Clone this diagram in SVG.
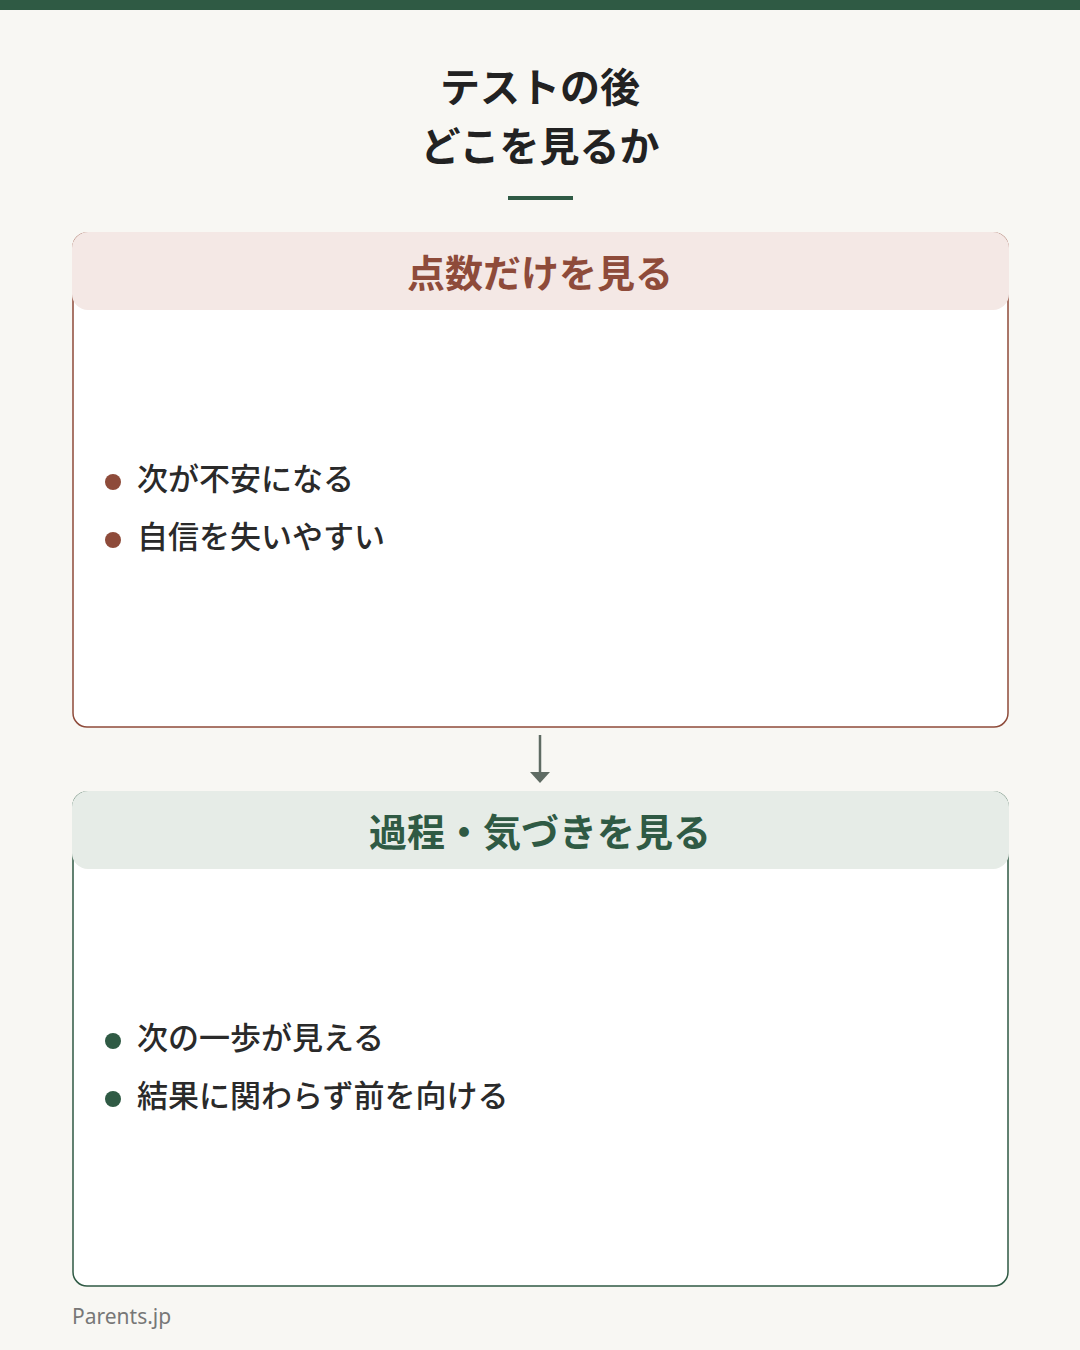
<svg xmlns="http://www.w3.org/2000/svg" width="1080" height="1350" viewBox="0 0 1080 1350">
<style>
text{font-family:"Noto Sans CJK JP","Noto Sans",sans-serif}
.t{font-size:40px;font-weight:700;fill:#222;text-anchor:middle}
.h{font-size:38px;font-weight:700;text-anchor:middle}
.b{font-size:31px;font-weight:500;fill:#2a2a2a}
</style>
<rect width="1080" height="1350" fill="#f8f7f3"/>
<rect width="1080" height="10" fill="#2f5a44"/>
<text class="t" x="540" y="102">テストの後</text>
<text class="t" x="540" y="161">どこを見るか</text>
<rect x="508" y="196" width="65" height="4" fill="#2f5a44"/>
<g id="node1">
<rect x="73" y="233" width="935" height="494" rx="14" fill="#fff" stroke="#8e4b3a" stroke-width="1.5"/>
<rect x="72" y="232" width="937" height="78" rx="16" fill="#f4e8e5"/>
<text class="h" x="540" y="287" fill="#8e4b3a">点数だけを見る</text>
<circle cx="113" cy="482" r="8" fill="#8e4b3a"/>
<text class="b" x="137" y="490">次が不安になる</text>
<circle cx="113" cy="540" r="8" fill="#8e4b3a"/>
<text class="b" x="137" y="548">自信を失いやすい</text>
</g>
<g id="connectors">
<line x1="540" y1="735" x2="540" y2="772" stroke="#5f6b63" stroke-width="2.5"/>
<polygon points="530,772 550,772 540,783" fill="#5f6b63"/>
</g>
<g id="node2">
<rect x="73" y="792" width="935" height="494" rx="14" fill="#fff" stroke="#2f5a44" stroke-width="1.5"/>
<rect x="72" y="791" width="937" height="78" rx="16" fill="#e6ece7"/>
<text class="h" x="540" y="846" fill="#2f5a44">過程・気づきを見る</text>
<circle cx="113" cy="1041" r="8" fill="#2f5a44"/>
<text class="b" x="137" y="1049">次の一歩が見える</text>
<circle cx="113" cy="1099" r="8" fill="#2f5a44"/>
<text class="b" x="137" y="1107">結果に関わらず前を向ける</text>
</g>
<text x="72" y="1324" font-size="21" fill="#777" style="font-family:'Noto Sans',sans-serif">Parents.jp</text>
</svg>
